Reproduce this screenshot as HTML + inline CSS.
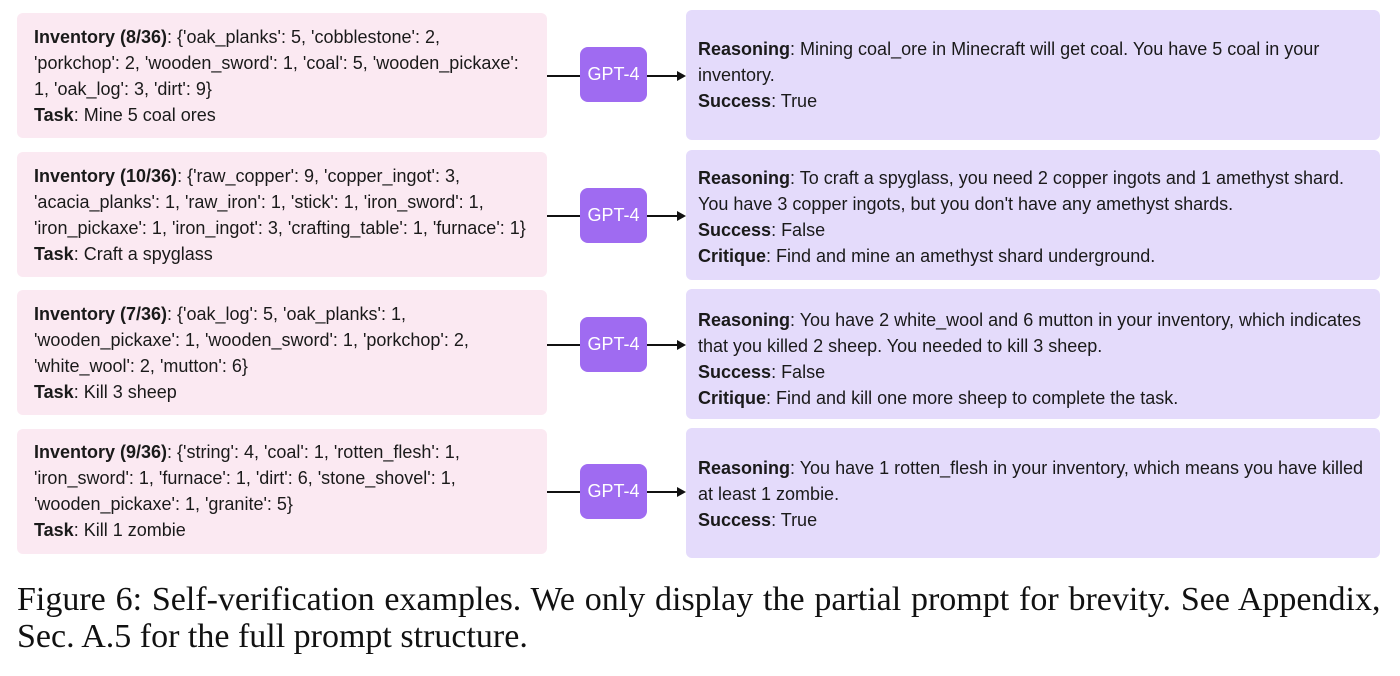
<!DOCTYPE html>
<html><head><meta charset="utf-8"><style>
body{margin:0;width:1400px;height:676px;background:#fff;position:relative;overflow:hidden;font-family:"Liberation Sans",sans-serif;color:#1a1a1a}
.b{position:absolute;border-radius:6px}
.p{background:#fbe9f2;left:17px;width:530px}
.v{background:#e4dbfb;left:686px;width:694px}
.t{position:absolute;font-size:18px;line-height:26px;white-space:nowrap}
.t b{font-weight:bold}
.g{position:absolute;left:580px;width:67px;height:55px;background:#9f6bf1;border-radius:8px;color:#fff;font-size:18px;line-height:55px;text-align:center}
.l{position:absolute;height:2px;background:#111}
.a{position:absolute;width:0;height:0;border-top:5px solid transparent;border-bottom:5px solid transparent;border-left:9px solid #111}
.cap{position:absolute;left:17px;font-family:"Liberation Serif",serif;font-size:34px;line-height:37px;white-space:nowrap;color:#111}
</style></head><body>
<div class="b p" style="top:13px;height:125px"></div>
<div class="b p" style="top:152px;height:125px"></div>
<div class="b p" style="top:290px;height:125px"></div>
<div class="b p" style="top:429px;height:125px"></div>
<div class="b v" style="top:10px;height:130px"></div>
<div class="b v" style="top:150px;height:130px"></div>
<div class="b v" style="top:289px;height:130px"></div>
<div class="b v" style="top:428px;height:130px"></div>

<div class="t" style="left:34px;top:24px"><b>Inventory (8/36)</b>: {'oak_planks': 5, 'cobblestone': 2,<br>'porkchop': 2, 'wooden_sword': 1, 'coal': 5, 'wooden_pickaxe':<br>1, 'oak_log': 3, 'dirt': 9}<br><b>Task</b>: Mine 5 coal ores</div>
<div class="t" style="left:34px;top:163px"><b>Inventory (10/36)</b>: {'raw_copper': 9, 'copper_ingot': 3,<br>'acacia_planks': 1, 'raw_iron': 1, 'stick': 1, 'iron_sword': 1,<br>'iron_pickaxe': 1, 'iron_ingot': 3, 'crafting_table': 1, 'furnace': 1}<br><b>Task</b>: Craft a spyglass</div>
<div class="t" style="left:34px;top:301px"><b>Inventory (7/36)</b>: {'oak_log': 5, 'oak_planks': 1,<br>'wooden_pickaxe': 1, 'wooden_sword': 1, 'porkchop': 2,<br>'white_wool': 2, 'mutton': 6}<br><b>Task</b>: Kill 3 sheep</div>
<div class="t" style="left:34px;top:439px"><b>Inventory (9/36)</b>: {'string': 4, 'coal': 1, 'rotten_flesh': 1,<br>'iron_sword': 1, 'furnace': 1, 'dirt': 6, 'stone_shovel': 1,<br>'wooden_pickaxe': 1, 'granite': 5}<br><b>Task</b>: Kill 1 zombie</div>

<div class="t" style="left:698px;top:36px"><b>Reasoning</b>: Mining coal_ore in Minecraft will get coal. You have 5 coal in your<br>inventory.<br><b>Success</b>: True</div>
<div class="t" style="left:698px;top:165px"><b>Reasoning</b>: To craft a spyglass, you need 2 copper ingots and 1 amethyst shard.<br>You have 3 copper ingots, but you don't have any amethyst shards.<br><b>Success</b>: False<br><b>Critique</b>: Find and mine an amethyst shard underground.</div>
<div class="t" style="left:698px;top:307px"><b>Reasoning</b>: You have 2 white_wool and 6 mutton in your inventory, which indicates<br>that you killed 2 sheep. You needed to kill 3 sheep.<br><b>Success</b>: False<br><b>Critique</b>: Find and kill one more sheep to complete the task.</div>
<div class="t" style="left:698px;top:455px"><b>Reasoning</b>: You have 1 rotten_flesh in your inventory, which means you have killed<br>at least 1 zombie.<br><b>Success</b>: True</div>

<div class="l" style="left:547px;top:75px;width:33px"></div><div class="g" style="top:47px">GPT-4</div><div class="l" style="left:647px;top:75px;width:30px"></div><div class="a" style="left:677px;top:71px"></div>
<div class="l" style="left:547px;top:215px;width:33px"></div><div class="g" style="top:188px">GPT-4</div><div class="l" style="left:647px;top:215px;width:30px"></div><div class="a" style="left:677px;top:211px"></div>
<div class="l" style="left:547px;top:344px;width:33px"></div><div class="g" style="top:317px">GPT-4</div><div class="l" style="left:647px;top:344px;width:30px"></div><div class="a" style="left:677px;top:340px"></div>
<div class="l" style="left:547px;top:491px;width:33px"></div><div class="g" style="top:464px">GPT-4</div><div class="l" style="left:647px;top:491px;width:30px"></div><div class="a" style="left:677px;top:487px"></div>

<div class="cap" style="top:581px;word-spacing:1.3px">Figure 6: Self-verification examples. We only display the partial prompt for brevity. See Appendix,</div>
<div class="cap" style="top:618px">Sec. A.5 for the full prompt structure.</div>
</body></html>
